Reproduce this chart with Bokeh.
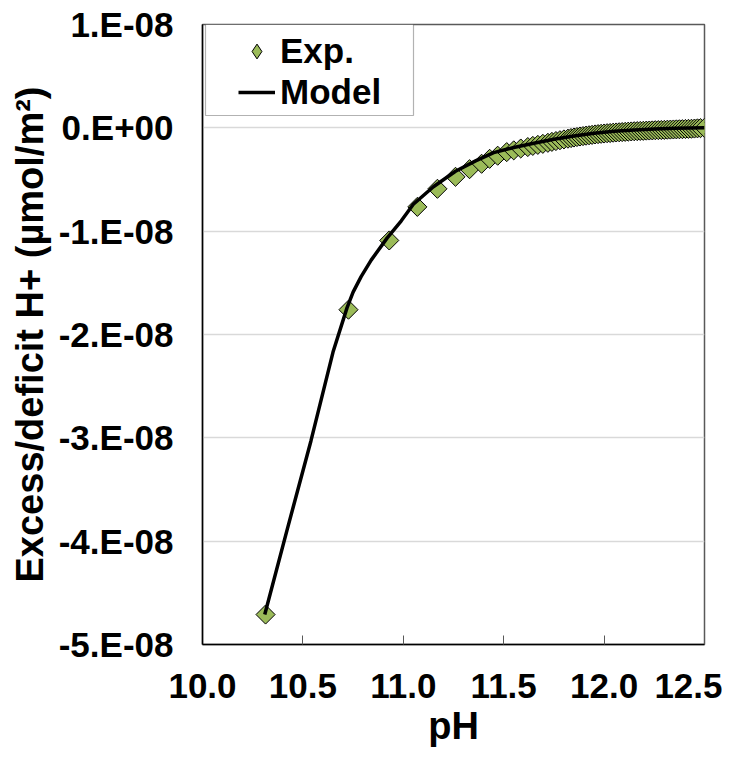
from bokeh.plotting import figure
from bokeh.models import (ColumnDataSource, Legend, LegendItem, FixedTicker,
                          CustomJSTickFormatter, PrintfTickFormatter, BoxAnnotation, Range1d)
from bokeh.embed import file_html
from bokeh.resources import INLINE

# ---- data (excess/deficit H+ given in units of 1e-8 umol/m2) ----
UNIT = 1e-8
exp_ph = [10.314, 10.727, 10.93, 11.07, 11.17, 11.26, 11.33, 11.39, 11.43, 11.47, 11.515,
          11.55, 11.585, 11.62, 11.645, 11.67, 11.695, 11.72, 11.74, 11.76, 11.78, 11.80,
          11.82, 11.835, 11.85, 11.865, 11.88, 11.895, 11.91, 11.925, 11.94, 11.955, 11.97,
          11.985, 12.0, 12.015, 12.03, 12.045, 12.06, 12.075, 12.09, 12.105, 12.12, 12.135,
          12.15, 12.165, 12.18, 12.195, 12.21, 12.225, 12.24, 12.255, 12.27, 12.285, 12.30,
          12.315, 12.33, 12.345, 12.36, 12.375, 12.39, 12.405, 12.42, 12.435, 12.45, 12.465,
          12.48, 12.5]
exp_val = [-4.71, -1.76, -1.09, -0.765, -0.59, -0.474, -0.40, -0.348, -0.30, -0.27, -0.235,
           -0.218, -0.200, -0.186, -0.175, -0.165, -0.155, -0.145, -0.136, -0.128, -0.120, -0.112,
           -0.105, -0.099, -0.094, -0.089, -0.084, -0.080, -0.076, -0.072, -0.068, -0.064, -0.061,
           -0.058, -0.055, -0.052, -0.050, -0.047, -0.045, -0.043, -0.041, -0.039, -0.037, -0.035,
           -0.033, -0.032, -0.030, -0.029, -0.027, -0.026, -0.025, -0.023, -0.022, -0.021, -0.020,
           -0.018, -0.017, -0.016, -0.015, -0.014, -0.013, -0.011, -0.010, -0.009, -0.007, -0.005,
           -0.003, 0.0]

model_ph = [10.31, 10.42, 10.54, 10.65, 10.72, 10.75, 10.79, 10.84, 10.92, 10.99, 11.05,
            11.15, 11.26, 11.36, 11.45, 11.55, 11.65, 11.75, 11.85, 11.95, 12.05, 12.15,
            12.25, 12.35, 12.5]
model_val = [-4.71, -3.90, -3.03, -2.17, -1.74, -1.59, -1.44, -1.28, -1.065, -0.90, -0.74,
             -0.57, -0.42, -0.32, -0.24, -0.19, -0.15, -0.11, -0.08, -0.052, -0.033, -0.020,
             -0.012, -0.005, 0.0]

x_ticks = [10.0, 10.5, 11.0, 11.5, 12.0, 12.5]
y_ticks = [-5e-8, -4e-8, -3e-8, -2e-8, -1e-8, 0.0, 1e-8]

x_title = "pH"
y_title = "Excess/deficit H+ (µmol/m²)"
series_names = ["Exp.", "Model"]

FONT = "Liberation Sans"
GREEN = "#9BBB59"

exp_src = ColumnDataSource(dict(x=exp_ph, y=[v * UNIT for v in exp_val]))
mod_src = ColumnDataSource(dict(x=model_ph, y=[v * UNIT for v in model_val]))

FRAME_H = 620
p = figure(width=722, height=752, output_backend="svg", toolbar_location=None,
           x_range=Range1d(x_ticks[0], x_ticks[-1]), y_range=Range1d(y_ticks[0], y_ticks[-1]),
           min_border_left=202, min_border_right=18, min_border_top=24, min_border_bottom=108)

p.background_fill_color = "white"
p.border_fill_color = "white"
p.outline_line_color = "#595959"
p.outline_line_width = 1.5

p.xgrid.visible = False
p.ygrid.grid_line_color = "#d9d9d9"
p.ygrid.grid_line_width = 1.5

for ax in (p.xaxis[0], p.yaxis[0]):
    ax.major_label_text_font = FONT
    ax.major_label_text_font_style = "bold"
    ax.major_label_text_font_size = "35px"
    ax.major_label_text_color = "black"
    ax.axis_label_text_font = FONT
    ax.axis_label_text_font_style = "bold"
    ax.axis_label_text_font_size = "38px"
    ax.axis_label_text_color = "black"
    ax.minor_tick_line_color = None
    ax.axis_line_color = "black"
    ax.axis_line_width = 1.5

p.xaxis.ticker = FixedTicker(ticks=x_ticks)
p.xaxis.formatter = PrintfTickFormatter(format="%.1f")
p.xaxis.major_tick_in = 9
p.xaxis.major_tick_out = 0
p.xaxis.major_tick_line_color = "#595959"
p.xaxis.major_label_standoff = 29
p.xaxis.axis_label = x_title
p.xaxis.axis_label_standoff = 4

p.yaxis.ticker = FixedTicker(ticks=y_ticks)
p.yaxis.formatter = CustomJSTickFormatter(code="""
    if (tick == 0) return "0.E+00";
    const e = Math.floor(Math.log10(Math.abs(tick)) + 1e-9);
    const m = Math.round(tick / Math.pow(10, e));
    const s = e < 0 ? "-" : "+";
    return m + ".E" + s + String(Math.abs(e)).padStart(2, "0");
""")
p.yaxis.major_tick_in = 0
p.yaxis.major_tick_out = 0
p.yaxis.major_label_standoff = 29
p.yaxis.axis_label = y_title
p.yaxis.axis_label_standoff = 5

r_exp = p.scatter("x", "y", source=exp_src, marker="square", angle=0.785398, size=13.5,
                  fill_color=GREEN, line_color="black", line_width=1)
r_mod = p.line("x", "y", source=mod_src, line_color="black", line_width=3.5)

# legend key for the experimental series (diamond, since legends do not rotate markers);
# it holds a single NaN point, so nothing is drawn in the plot area
key_src = ColumnDataSource(dict(x=[float("nan")], y=[float("nan")]))
r_key = p.scatter("x", "y", source=key_src, marker="diamond", size=14,
                  fill_color=GREEN, line_color="black", line_width=1)

box = BoxAnnotation(left=3, right=211, top=FRAME_H, bottom=FRAME_H - 91,
                    left_units="screen", right_units="screen",
                    top_units="screen", bottom_units="screen",
                    fill_color="white", fill_alpha=1.0, line_color="black", line_width=1.2)
p.add_layout(box)

legend = Legend(items=[LegendItem(label=series_names[0], renderers=[r_key]),
                       LegendItem(label=series_names[1], renderers=[r_mod])],
                location=(30, 526), padding=6, margin=0, spacing=1,
                glyph_width=37, glyph_height=40, label_standoff=5,
                label_text_font=FONT, label_text_font_style="bold",
                label_text_font_size="35px", label_text_color="black",
                border_line_alpha=0, background_fill_alpha=0)
p.add_layout(legend)

open("out.html", "w").write(file_html(p, INLINE))
